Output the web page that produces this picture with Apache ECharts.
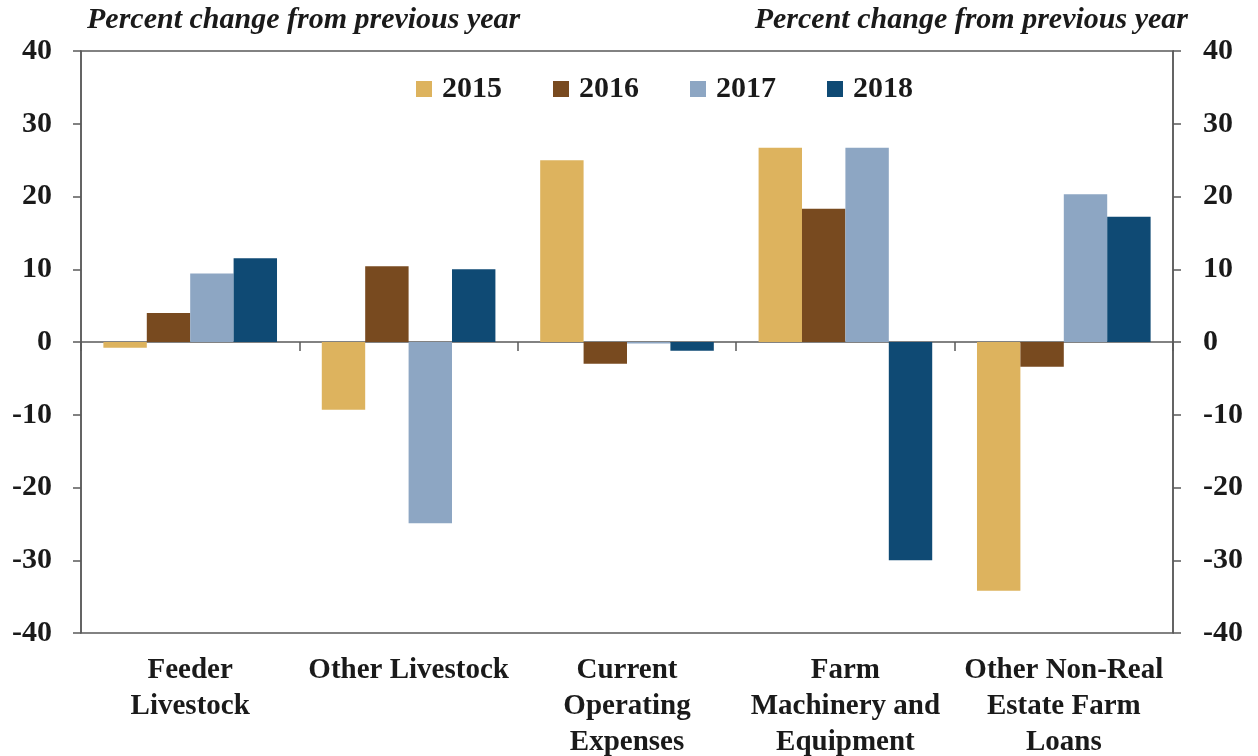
<!DOCTYPE html>
<html>
<head>
<meta charset="utf-8">
<style>
  html, body { margin: 0; padding: 0; background: #ffffff; }
  #chart { width: 1258px; height: 756px; }
</style>
<script src="https://cdn.jsdelivr.net/npm/echarts@6/dist/echarts.min.js"></script>
</head>
<body>
<div id="chart"></div>
<script>
// Loan categories along the horizontal axis
const categories = [
  'Feeder\nLivestock',
  'Other Livestock',
  'Current\nOperating\nExpenses',
  'Farm\nMachinery and\nEquipment',
  'Other Non-Real\nEstate Farm\nLoans'
];

// Percent change from previous year, one array per year
const years = ['2015', '2016', '2017', '2018'];
const values2015 = [-0.8, -9.3, 25.0, 26.7, -34.2];
const values2016 = [4.0, 10.4, -3.0, 18.3, -3.4];
const values2017 = [9.4, -24.9, -0.2, 26.7, 20.3];
const values2018 = [11.5, 10.0, -1.2, -30.0, 17.2];

// Value axis ticks
const yMin = -40;
const yMax = 40;
const yStep = 10;

const axisTitle = 'Percent change from previous year';

const colors = ['#DDB35E', '#784A1F', '#8DA6C3', '#0F4A74'];
const serif = '"Liberation Serif", "DejaVu Serif", serif';
const axisColor = '#5a5a5a';
const textColor = '#1a1a1a';

const seriesValues = [values2015, values2016, values2017, values2018];

const chart = echarts.init(document.getElementById('chart'), null, { renderer: 'canvas' });

function valueAxis(position) {
  return {
    type: 'value',
    position: position,
    min: yMin,
    max: yMax,
    interval: yStep,
    axisLine: { show: true, lineStyle: { color: axisColor, width: 1.5 } },
    axisTick: { show: true, length: 8, lineStyle: { color: axisColor, width: 1.5 } },
    splitLine: { show: false },
    axisLabel: {
      margin: position === 'left' ? 29 : 30,
      fontFamily: serif,
      fontSize: 30,
      fontWeight: 'bold',
      color: textColor
    }
  };
}

const titleStyle = {
  fontFamily: serif,
  fontStyle: 'italic',
  fontWeight: 'bold',
  fontSize: 30,
  color: textColor
};

chart.setOption({
  backgroundColor: '#ffffff',
  animation: false,
  color: colors,
  title: [
    { text: axisTitle, left: 87, top: 5, padding: 0, textStyle: titleStyle },
    { text: axisTitle, right: 70, top: 5, padding: 0, textStyle: titleStyle }
  ],
  legend: {
    data: years,
    left: 416,
    top: 74,
    padding: 0,
    itemWidth: 16,
    itemHeight: 16,
    itemGap: 51,
    icon: 'rect',
    textStyle: { fontFamily: serif, fontSize: 30, fontWeight: 'bold', color: textColor, padding: [0, 0, 0, 5] }
  },
  grid: {
    left: 81,
    right: 85,
    top: 51,
    bottom: 123,
    outerBoundsMode: 'none',
    containLabel: false,
    show: true,
    borderColor: axisColor,
    borderWidth: 1.5
  },
  xAxis: [
    {
      // category names below the plot
      type: 'category',
      data: categories,
      position: 'bottom',
      axisLine: { show: false, onZero: false },
      axisTick: { show: false },
      axisLabel: {
        interval: 0,
        margin: 20,
        fontFamily: serif,
        fontSize: 29,
        fontWeight: 'bold',
        lineHeight: 36,
        color: textColor
      }
    },
    {
      // zero line with category separators
      type: 'category',
      data: categories,
      position: 'top',
      axisLine: { show: true, onZero: true, lineStyle: { color: axisColor, width: 1.5 } },
      axisTick: { show: true, inside: true, length: 9, lineStyle: { color: axisColor, width: 1.5 } },
      axisLabel: { show: false }
    }
  ],
  yAxis: [valueAxis('left'), valueAxis('right')],
  series: seriesValues.map((vals, i) => ({
    name: years[i],
    type: 'bar',
    xAxisIndex: 0,
    yAxisIndex: 0,
    data: vals,
    barGap: '0%',
    barCategoryGap: '20.5%'
  }))
});
</script>
</body>
</html>
